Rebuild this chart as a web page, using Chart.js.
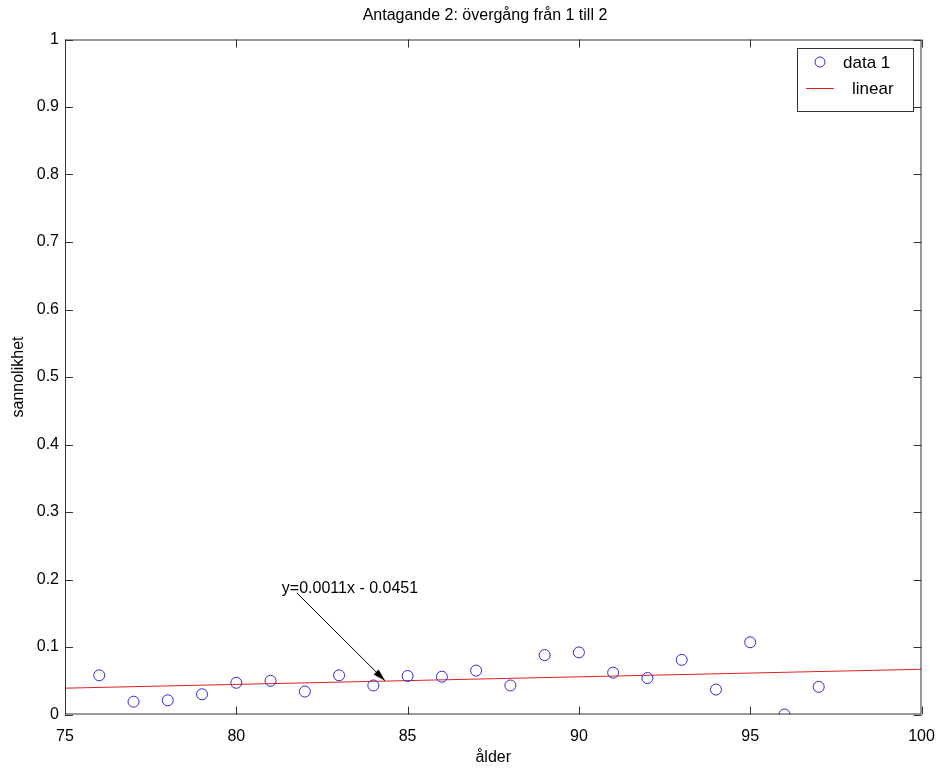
<!DOCTYPE html>
<html>
<head>
<meta charset="utf-8">
<script src="https://cdn.jsdelivr.net/npm/chart.js@4"></script>
<style>
  body { margin: 0; background: #fff; }
  #wrap { width: 939px; height: 769px; }
</style>
</head>
<body>
<div id="wrap"><canvas id="chart" width="939" height="769"></canvas></div>
<script>
// age groups and observed transition probabilities
const ages = [76, 77, 78, 79, 80, 81, 82, 83, 84, 85, 86, 87, 88, 89, 90, 91, 92, 93, 94, 95, 96, 97];
const probs = [0.058, 0.019, 0.021, 0.030, 0.047, 0.050, 0.034, 0.058, 0.043, 0.057, 0.056, 0.065,
  0.043, 0.088, 0.092, 0.062, 0.054, 0.081, 0.037, 0.107, 0.0, 0.041];

// linear fit, read at the two ends of the x range
const fitX = [75, 100];
const fitY = [0.039, 0.067];

const xTicks = [75, 80, 85, 90, 95, 100];
const yTicks = [0, 0.1, 0.2, 0.3, 0.4, 0.5, 0.6, 0.7, 0.8, 0.9, 1];

const FONT = "'Liberation Sans', Arial, Helvetica, sans-serif";

// label + arrow, in data coords
const note = { text: "y=0.0011x - 0.0451", x: 81.33, y: 0.186, fromX: 81.77, fromY: 0.18, toX: 84.34, toY: 0.05 };

const matlabBox = {
  id: "matlabBox",
  afterDatasetsDraw(chart) {
    const { ctx, chartArea: a, scales } = chart;
    const xs = scales.x, ys = scales.y;
    ctx.save();

    // frame
    ctx.strokeStyle = "#333";
    ctx.lineWidth = 1;
    ctx.strokeRect(a.left + 0.5, a.top + 0.5, a.right - a.left - 1, a.bottom - a.top - 1);

    // inward ticks on all four sides
    const len = 8;
    ctx.beginPath();
    xTicks.forEach((v) => {
      const px = Math.round(xs.getPixelForValue(v)) + 0.5;
      ctx.moveTo(px, a.bottom); ctx.lineTo(px, a.bottom - len);
      ctx.moveTo(px, a.top); ctx.lineTo(px, a.top + len);
    });
    yTicks.forEach((v) => {
      const py = Math.round(ys.getPixelForValue(v)) + 0.5;
      ctx.moveTo(a.left, py); ctx.lineTo(a.left + len, py);
      ctx.moveTo(a.right, py); ctx.lineTo(a.right - len, py);
    });
    ctx.stroke();

    // title
    ctx.fillStyle = "#000";
    ctx.font = "16px " + FONT;
    ctx.textAlign = "center";
    ctx.textBaseline = "middle";
    ctx.fillText("Antagande 2: övergång från 1 till 2", 485, 16);

    // annotation
    ctx.textAlign = "left";
    ctx.fillText(note.text, xs.getPixelForValue(note.x), ys.getPixelForValue(note.y));
    const x0 = xs.getPixelForValue(note.fromX), y0 = ys.getPixelForValue(note.fromY);
    const x1 = xs.getPixelForValue(note.toX), y1 = ys.getPixelForValue(note.toY);
    const ang = Math.atan2(y1 - y0, x1 - x0);
    ctx.strokeStyle = "#000";
    ctx.beginPath();
    ctx.moveTo(x0, y0);
    ctx.lineTo(x1, y1);
    ctx.stroke();
    ctx.beginPath();
    ctx.moveTo(x1, y1);
    ctx.lineTo(x1 - 13 * Math.cos(ang - 0.28), y1 - 13 * Math.sin(ang - 0.28));
    ctx.lineTo(x1 - 13 * Math.cos(ang + 0.28), y1 - 13 * Math.sin(ang + 0.28));
    ctx.closePath();
    ctx.fillStyle = "#000";
    ctx.fill();

    // legend box
    const lx = Math.round(a.right - 125), ly = Math.round(a.top + 8), lw = 116, lh = 63;
    ctx.fillStyle = "#fff";
    ctx.fillRect(lx, ly, lw, lh);
    ctx.strokeStyle = "#333";
    ctx.strokeRect(lx + 0.5, ly + 0.5, lw, lh);
    ctx.strokeStyle = "#2a2ad0";
    ctx.beginPath();
    ctx.arc(lx + 23, ly + 14, 5, 0, Math.PI * 2);
    ctx.stroke();
    ctx.strokeStyle = "#e02020";
    ctx.beginPath();
    ctx.moveTo(lx + 9, ly + 40.5);
    ctx.lineTo(lx + 37, ly + 40.5);
    ctx.stroke();
    ctx.fillStyle = "#000";
    ctx.font = "17px " + FONT;
    ctx.textAlign = "left";
    ctx.fillText("data 1", lx + 46, ly + 15);
    ctx.fillText("linear", lx + 55, ly + 41);

    ctx.restore();
  },
};

new Chart(document.getElementById("chart"), {
  type: "scatter",
  data: {
    datasets: [
      {
        label: "data 1",
        data: ages.map((a, i) => ({ x: a, y: probs[i] })),
        pointStyle: "circle",
        pointRadius: 5.5,
        pointBorderWidth: 1,
        borderColor: "#2a2ad0",
        backgroundColor: "rgba(0,0,0,0)",
        showLine: false,
      },
      {
        label: "linear",
        data: fitX.map((x, i) => ({ x: x, y: fitY[i] })),
        showLine: true,
        borderColor: "#e02020",
        borderWidth: 1,
        pointRadius: 0,
        fill: false,
      },
    ],
  },
  options: {
    responsive: false,
    animation: false,
    layout: { padding: { top: 39.5, right: 17.5, bottom: 0, left: 0 } },
    plugins: { legend: { display: false }, tooltip: { enabled: false } },
    scales: {
      x: {
        type: "linear",
        min: 75,
        max: 100,
        afterFit: (s) => { s.height = 54.5; s.paddingLeft = 0; s.paddingRight = 0; },
        afterBuildTicks: (s) => { s.ticks = xTicks.map((v) => ({ value: v })); },
        grid: { display: false, drawTicks: false },
        border: { display: false },
        ticks: { color: "#000", padding: 12, font: { family: FONT, size: 16 }, maxRotation: 0 },
        title: { display: true, text: "ålder", color: "#000", padding: { top: 0, bottom: 2 }, font: { family: FONT, size: 16 } },
      },
      y: {
        type: "linear",
        min: 0,
        max: 1,
        afterFit: (s) => { s.width = 65; s.paddingTop = 0; s.paddingBottom = 0; },
        afterBuildTicks: (s) => { s.ticks = yTicks.map((v) => ({ value: v })); },
        grid: { display: false, drawTicks: false },
        border: { display: false },
        ticks: { color: "#000", padding: 6, font: { family: FONT, size: 16 }, callback: (v) => String(v) },
        title: { display: true, text: "sannolikhet", color: "#000", padding: { top: 9, bottom: 0 }, font: { family: FONT, size: 16 } },
      },
    },
  },
  plugins: [matlabBox],
});
</script>
</body>
</html>
